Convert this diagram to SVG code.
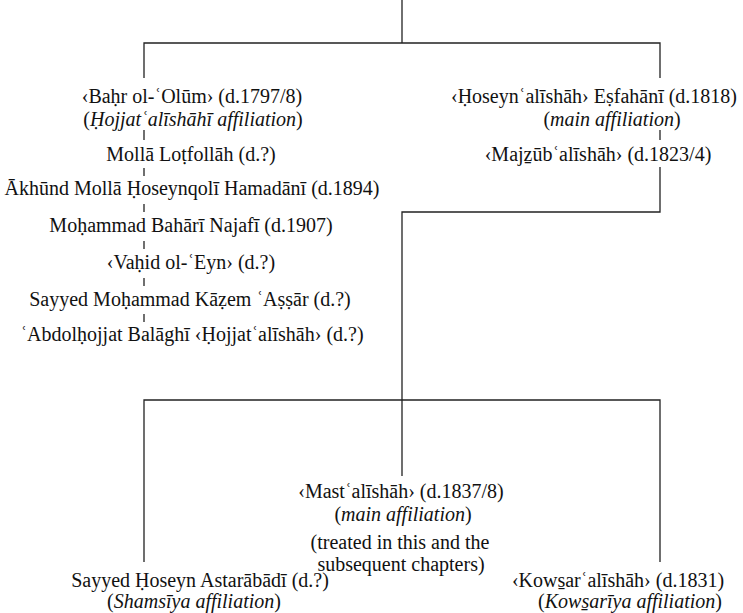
<svg xmlns="http://www.w3.org/2000/svg" width="743" height="613" viewBox="0 0 743 613">
<style>
text{font-family:"Liberation Serif","Times New Roman",serif;font-size:20px;fill:#111;text-anchor:middle}
.i{font-style:italic}
.c line,.c polyline{stroke:#222;stroke-width:1.3;fill:none}
</style>
<rect width="743" height="613" fill="#fff"/>
<g class="c" id="connectors">
<line x1="402" y1="0" x2="402" y2="43"/>
<polyline points="144,78 144,43 660,43 660,78"/>
<line x1="144" y1="130" x2="144" y2="140"/>
<line x1="144" y1="168" x2="144" y2="176"/>
<line x1="144" y1="204" x2="144" y2="212"/>
<line x1="144" y1="241" x2="144" y2="249"/>
<line x1="144" y1="278" x2="144" y2="286"/>
<line x1="144" y1="314" x2="144" y2="322"/>
<line x1="660" y1="130" x2="660" y2="140"/>
<polyline points="660,167 660,212 402,212 402,476"/>
<polyline points="144,562 144,400 660,400 660,562"/>
</g>
<g id="bahr"><text x="192" y="103">‹Baḥr ol-ʿOlūm› (d.1797/8)</text><text x="193" y="126">(<tspan class="i">Ḥojjatʿalīshāhī affiliation</tspan>)</text></g>
<g id="molla"><text x="191" y="161">Mollā Loṭfollāh (d.?)</text></g>
<g id="akhund"><text x="192" y="195">Ākhūnd Mollā Ḥoseynqolī Hamadānī (d.1894)</text></g>
<g id="mohammad"><text x="191" y="232">Moḥammad Bahārī Najafī (d.1907)</text></g>
<g id="vahid"><text x="191" y="269">‹Vaḥid ol-ʿEyn› (d.?)</text></g>
<g id="kazem"><text x="190" y="306">Sayyed Moḥammad Kāẓem ʿAṣṣār (d.?)</text></g>
<g id="abdol"><text x="192" y="341">ʿAbdolḥojjat Balāghī ‹Ḥojjatʿalīshāh› (d.?)</text></g>
<g id="hoseyn"><text x="594" y="103">‹Ḥoseynʿalīshāh› Eṣfahānī (d.1818)</text><text x="612" y="126">(<tspan class="i">main affiliation</tspan>)</text></g>
<g id="majzub"><text x="598" y="161">‹Majẕūbʿalīshāh› (d.1823/4)</text></g>
<g id="mast"><text x="401" y="498">‹Mastʿalīshāh› (d.1837/8)</text><text x="403" y="521">(<tspan class="i">main affiliation</tspan>)</text><text x="400" y="549">(treated in this and the</text><text x="401" y="571">subsequent chapters)</text></g>
<g id="astarabadi"><text x="200" y="587">Sayyed Ḥoseyn Astarābādī (d.?)</text><text x="194" y="608">(<tspan class="i">Shamsīya affiliation</tspan>)</text></g>
<g id="kowsar"><text x="618" y="587">‹Kows̱arʿalīshāh› (d.1831)</text><text x="630" y="608">(<tspan class="i">Kows̱arīya affiliation</tspan>)</text></g>
</svg>
